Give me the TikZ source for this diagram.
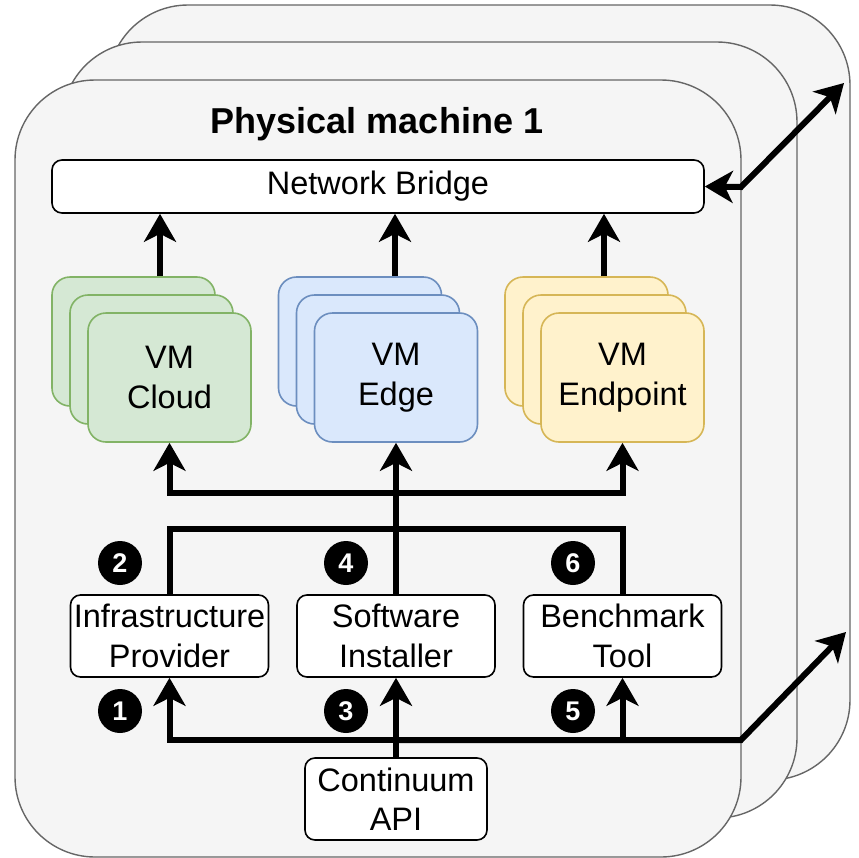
\documentclass[tikz,border=0pt]{standalone}
\usepackage{fontspec}
\setmainfont{Liberation Sans}
\usetikzlibrary{arrows.meta}

\definecolor{pmfill}{HTML}{F5F5F5}
\definecolor{pmdraw}{HTML}{666666}
\definecolor{cloudfill}{HTML}{D5E8D4}
\definecolor{clouddraw}{HTML}{82B366}
\definecolor{edgefill}{HTML}{DAE8FC}
\definecolor{edgedraw}{HTML}{6C8EBF}
\definecolor{endfill}{HTML}{FFF2CC}
\definecolor{enddraw}{HTML}{D6B656}

\newcommand{\labelfont}{\fontsize{16.25}{19.75}\selectfont}

\begin{document}
\begin{tikzpicture}[x=0.5pt, y=-0.5pt,
  >={Stealth[length=14pt,width=16pt,inset=4pt]},
  machine/.style={draw=pmdraw, fill=pmfill, line width=0.7pt, rounded corners=40pt},
  vm/.style={line width=0.8pt, rounded corners=9pt, minimum width=81.5pt,
    minimum height=64.5pt, inner sep=0pt, align=center, font=\labelfont},
  cloudvm/.style={vm, draw=clouddraw, fill=cloudfill},
  edgevmstyle/.style={vm, draw=edgedraw, fill=edgefill},
  endvmstyle/.style={vm, draw=enddraw, fill=endfill},
  box/.style={draw, fill=white, line width=0.8pt, rounded corners=5pt,
    minimum width=99pt, minimum height=41pt, inner sep=0pt, align=center,
    font=\labelfont},
  numdot/.style={circle, fill=black, text=white, minimum size=22pt, inner sep=0pt,
    font=\bfseries\fontsize{13.5}{13.5}\selectfont},
  flow/.style={line width=3pt, ->},
  wire/.style={line width=3pt}]
  \useasboundingbox (0,0) rectangle (859,858);

  % physical machines, back to front
  \draw[machine] (108,5) rectangle (850,780);
  \draw[machine] (62,42) rectangle (797,818);
  \draw[machine] (15,80) rectangle (741,857);
  \node[anchor=base, font=\bfseries\fontsize{18}{18}\selectfont] (title) at (377,133)
    {Physical machine 1};

  \node[box, minimum width=326pt, minimum height=26.5pt] (nb) at (378,186.5)
    {Network Bridge};

  % virtual machines
  \node[cloudvm] (cloudA) at (133.5,341.5) {};
  \node[cloudvm] (cloudB) at (151.5,359.5) {};
  \node[cloudvm] (cloud) at (169.5,377.5) {VM\\Cloud};
  \node[edgevmstyle] (edgeA) at (360,341.5) {};
  \node[edgevmstyle] (edgeB) at (378,359.5) {};
  \node[edgevmstyle] (edgevm) at (396,377.5) {VM\\Edge};
  \node[endvmstyle] (endA) at (586.5,341.5) {};
  \node[endvmstyle] (endB) at (604.5,359.5) {};
  \node[endvmstyle] (endvm) at (622.5,377.5) {VM\\Endpoint};

  % tools
  \node[box] (infra) at (169.5,636) {Infrastructure\\Provider};
  \node[box] (soft) at (396,636) {Software\\Installer};
  \node[box] (bench) at (622.5,636) {Benchmark\\Tool};
  \node[box, minimum width=91pt] (api) at (396,799) {Continuum\\API};

  \node[numdot] (n1) at (120,711) {1};
  \node[numdot] (n2) at (120,563) {2};
  \node[numdot] (n3) at (346,711) {3};
  \node[numdot] (n4) at (346,563) {4};
  \node[numdot] (n5) at (573,711) {5};
  \node[numdot] (n6) at (573,563) {6};

  \coordinate (split) at (396,493);
  \coordinate (join) at (396,529);
  \coordinate (bus) at (396,740);
  \coordinate (bend1) at (741,187);
  \coordinate (out1) at (844,83);
  \coordinate (bend2) at (741,740);
  \coordinate (out2) at (846,632);

  % vms to the bridge
  \draw[flow] ([xshift=13.25pt]cloudA.north) -- ([xshift=13.25pt]cloudA.north |- nb.south);
  \draw[flow] ([xshift=17.5pt]edgeA.north) -- ([xshift=17.5pt]edgeA.north |- nb.south);
  \draw[flow] ([xshift=8.75pt]endA.north) -- ([xshift=8.75pt]endA.north |- nb.south);
  \draw[flow, <->] (nb.east) -- (bend1) -- (out1);

  % tools to the vms
  \draw[wire] (infra.north) |- (join);
  \draw[wire] (bench.north) |- (join);
  \draw[flow] (soft.north) -- (edgevm.south);
  \draw[flow] (split) -| (cloud.south);
  \draw[flow] (split) -| (endvm.south);

  % api to the tools
  \draw[flow] (api.north) -- (soft.south);
  \draw[flow] (bus) -| (infra.south);
  \draw[flow] (bus) -| (bench.south);
  \draw[flow] (bus) -- (bend2) -- (out2);
\end{tikzpicture}
\end{document}
